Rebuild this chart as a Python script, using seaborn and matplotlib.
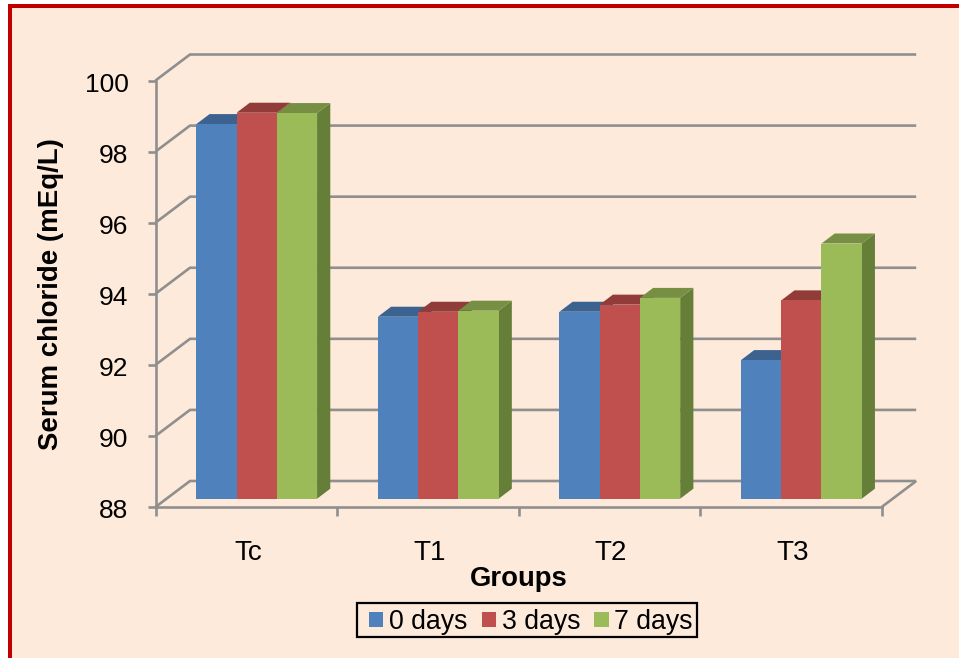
import matplotlib
matplotlib.use("Agg")
import matplotlib.pyplot as plt
import pandas as pd
import seaborn as sns
from matplotlib.patches import Patch, Polygon, Rectangle
from matplotlib.transforms import ScaledTranslation

groups = ["Tc", "T1", "T2", "T3"]
days = ["0 days", "3 days", "7 days"]
values_0_days = [98.54, 93.12, 93.26, 91.90]
values_3_days = [98.86, 93.26, 93.46, 93.58]
values_7_days = [98.85, 93.29, 93.65, 95.18]
y_ticks = [88, 90, 92, 94, 96, 98, 100]

front_colors = ["#4F81BD", "#C0504D", "#9BBB59"]
top_colors = ["#3C6290", "#923C3A", "#768F43"]
side_colors = ["#355780", "#823532", "#657E38"]
grid_color = "#8F8F8F"
paper = "#FDEADA"
border = "#C00000"

W, H = 959, 658
sns.set_theme(style="white")
plt.rcParams["font.family"] = ["Liberation Sans", "DejaVu Sans"]
plt.rcParams["text.color"] = "black"


def frac_box(left, top, right, bottom):
    """Convert a pixel box measured from the top-left into figure fractions."""
    return [left / W, 1 - bottom / H, (right - left) / W, (bottom - top) / H]


fig = plt.figure(figsize=(W / 100, H / 100), dpi=100, facecolor="white")

# Framed page background
for box, color in [((8, 4, W + 5, H + 5), border), ((12, 7.5, W + 5, H + 5), paper)]:
    x0, y0, w, h = frac_box(*box)
    fig.add_artist(Rectangle((x0, y0), w, h, transform=fig.transFigure,
                             facecolor=color, edgecolor="none", zorder=-5))

# Axis plane at the front of the floor
ax = fig.add_axes(frac_box(155.5, 80.5, 881.7, 507))
ax.set_facecolor("none")
ax.set_xlim(-0.5, 3.5)
ax.set_ylim(88, 100)
px_x = (881.7 - 155.5) / 4
px_y = (507 - 80.5) / 12

for name in ("top", "right"):
    ax.spines[name].set_visible(False)
for name in ("left", "bottom"):
    ax.spines[name].set_color(grid_color)
    ax.spines[name].set_linewidth(1.9)

ax.set_yticks(y_ticks)
ax.tick_params(axis="y", which="major", left=True, length=6, width=1.9,
               color=grid_color, labelsize=19, pad=13.5, labelcolor="black")
ax.set_xticks([-0.5, 0.5, 1.5, 2.5, 3.5])
ax.set_xticklabels([])
ax.set_xticks(range(len(groups)), labels=groups, minor=True)
ax.tick_params(axis="x", which="major", bottom=True, length=6.5, width=1.9, color=grid_color)
ax.tick_params(axis="x", which="minor", bottom=False, length=0, labelsize=20, pad=23.5,
               labelcolor="black")

# Nudge the tick labels onto the baseline used by the rest of the text
nudge_y = ScaledTranslation(0, -1.5 / 100, fig.dpi_scale_trans)
for label in ax.get_yticklabels():
    label.set_transform(label.get_transform() + nudge_y)
nudge_x = ScaledTranslation(1.5 / 100, 0, fig.dpi_scale_trans)
for label in ax.get_xticklabels(minor=True):
    label.set_transform(label.get_transform() + nudge_x)

ax.set_ylabel("Serum chloride (mEq/L)", fontsize=19.9, fontweight="bold", color="black")
ax.yaxis.set_label_coords((64 - 155.5) / (881.7 - 155.5), (507 - 294) / (507 - 80.5))
ax.set_xlabel("Groups", fontsize=19.8, fontweight="bold", color="black")
ax.xaxis.set_label_coords(0.5, (507 - 578.5) / (507 - 80.5))
ax.xaxis.label.set_verticalalignment("center")

# Back wall gridlines and the slanted lines running back from the axis
wall_dx = 34.5 / px_x
wall_dy = 26 / px_y
line_style = dict(color=grid_color, lw=1.9, solid_capstyle="butt", clip_on=False, zorder=1)
for tick in y_ticks:
    ax.plot([-0.5, -0.5 + wall_dx, 3.5 + wall_dx],
            [tick, tick + wall_dy, tick + wall_dy], **line_style)
ax.plot([3.5, 3.5 + wall_dx], [88, 88 + wall_dy], **line_style)

# Bars sit on their own plane, part way back along the floor
bar_ax = fig.add_axes(frac_box(155.5 + 10.45, 80.5 - 8.3, 881.7 + 10.45, 507 - 8.3))
table = pd.DataFrame({
    "group": groups * 3,
    "day": [d for d in days for _ in groups],
    "value": values_0_days + values_3_days + values_7_days,
})
sns.barplot(data=table, x="group", y="value", hue="day", order=groups, hue_order=days,
            palette=front_colors, saturation=1, width=0.665, gap=0, legend=False,
            linewidth=0, ax=bar_ax)
bar_ax.set_xlim(-0.5, 3.5)
bar_ax.set_ylim(88, 100)
bar_ax.axis("off")

# Side and top faces extrude each bar by the same depth
depth_x = 13.2 / px_x
depth_y = 10 / px_y
bars = [p for p in bar_ax.patches if p.get_height() > 0]
for order, bar in enumerate(sorted(bars, key=lambda p: p.get_x())):
    idx = front_colors.index(matplotlib.colors.to_hex(bar.get_facecolor()).upper())
    x0, x1 = bar.get_x(), bar.get_x() + bar.get_width()
    top = bar.get_height()
    base = 88
    z = 3 + order
    bar.set_zorder(z + 0.5)
    bar_ax.add_patch(Polygon([(x1, base), (x1 + depth_x, base + depth_y),
                              (x1 + depth_x, top + depth_y), (x1, top)],
                             facecolor=side_colors[idx], edgecolor="none", zorder=z))
    bar_ax.add_patch(Polygon([(x0, top), (x0 + depth_x, top + depth_y),
                              (x1 + depth_x, top + depth_y), (x1, top)],
                             facecolor=top_colors[idx], edgecolor="none", zorder=z))

# Legend entries with a separately sized box around them
handles = [Patch(facecolor=c, edgecolor="none", label=d) for c, d in zip(front_colors, days)]
fig.legend(handles=handles, ncol=3, loc="center", fontsize=19.2,
           bbox_to_anchor=(531 / W, 1 - 622 / H), frameon=False,
           handlelength=0.54, handleheight=0.52, handletextpad=0.22,
           columnspacing=0.52, borderpad=0, borderaxespad=0)
x0, y0, w, h = frac_box(357, 602.5, 697, 636.5)
fig.add_artist(Rectangle((x0, y0), w, h, transform=fig.transFigure,
                         facecolor="none", edgecolor="black", linewidth=1.6))

fig.savefig("out.png", dpi=100, facecolor=fig.get_facecolor())
